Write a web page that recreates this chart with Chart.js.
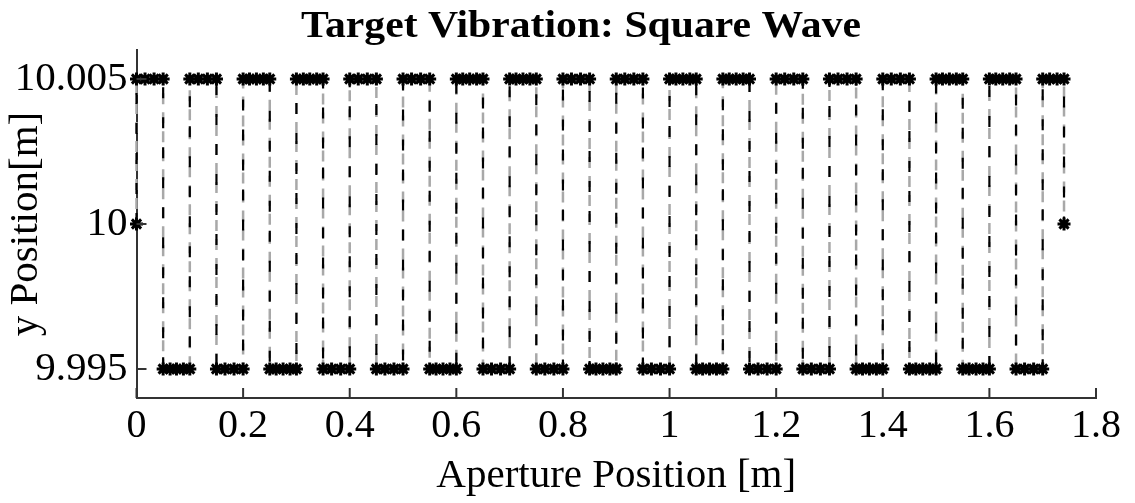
<!DOCTYPE html>
<html>
<head>
<meta charset="utf-8">
<script src="https://cdn.jsdelivr.net/npm/chart.js@4"></script>
<style>
  html, body { margin: 0; padding: 0; background: #ffffff; }
  #wrap { width: 1135px; height: 503px; }
</style>
</head>
<body>
<div id="wrap"><canvas id="c" width="1135" height="503"></canvas></div>
<script>
const chartTitle = 'Target Vibration: Square Wave';
const xAxisTitle = 'Aperture Position [m]';
const yAxisTitle = 'y Position[m]';

const xTickValues = [0, 0.2, 0.4, 0.6, 0.8, 1.0, 1.2, 1.4, 1.6, 1.8];
const xTickLabels = ['0', '0.2', '0.4', '0.6', '0.8', '1', '1.2', '1.4', '1.6', '1.8'];
const yTickValues = [9.995, 10, 10.005];
const yTickLabels = ['9.995', '10', '10.005'];

// sampled aperture positions (m), one line per plateau
const apertureX = [
  0, 0, 0.016, 0.033, 0.05,
  0.05, 0.063, 0.075, 0.088, 0.1,
  0.1, 0.116, 0.133, 0.15,
  0.15, 0.166, 0.183, 0.2,
  0.2, 0.212, 0.225, 0.238, 0.25,
  0.25, 0.262, 0.275, 0.288, 0.3,
  0.3, 0.313, 0.325, 0.338, 0.35,
  0.35, 0.366, 0.383, 0.4,
  0.4, 0.416, 0.433, 0.45,
  0.45, 0.466, 0.483, 0.5,
  0.5, 0.516, 0.533, 0.55,
  0.55, 0.562, 0.575, 0.588, 0.6,
  0.6, 0.612, 0.625, 0.638, 0.65,
  0.65, 0.666, 0.683, 0.7,
  0.7, 0.712, 0.725, 0.738, 0.75,
  0.75, 0.766, 0.783, 0.8,
  0.8, 0.816, 0.833, 0.85,
  0.85, 0.862, 0.875, 0.888, 0.9,
  0.9, 0.916, 0.933, 0.95,
  0.95, 0.966, 0.983, 1.0,
  1.0, 1.012, 1.025, 1.038, 1.05,
  1.05, 1.062, 1.075, 1.088, 1.1,
  1.1, 1.112, 1.125, 1.138, 1.15,
  1.15, 1.166, 1.183, 1.2,
  1.2, 1.216, 1.233, 1.25,
  1.25, 1.266, 1.283, 1.3,
  1.3, 1.316, 1.333, 1.35,
  1.35, 1.362, 1.375, 1.388, 1.4,
  1.4, 1.416, 1.433, 1.45,
  1.45, 1.462, 1.475, 1.488, 1.5,
  1.5, 1.512, 1.525, 1.538, 1.55,
  1.55, 1.562, 1.575, 1.588, 1.6,
  1.6, 1.612, 1.625, 1.638, 1.65,
  1.65, 1.666, 1.683, 1.7,
  1.7, 1.713, 1.727, 1.74, 1.74
];
// target y position (m), same layout as apertureX
const targetY = [
  10, 10.005, 10.005, 10.005, 10.005,
  9.995, 9.995, 9.995, 9.995, 9.995,
  10.005, 10.005, 10.005, 10.005,
  9.995, 9.995, 9.995, 9.995,
  10.005, 10.005, 10.005, 10.005, 10.005,
  9.995, 9.995, 9.995, 9.995, 9.995,
  10.005, 10.005, 10.005, 10.005, 10.005,
  9.995, 9.995, 9.995, 9.995,
  10.005, 10.005, 10.005, 10.005,
  9.995, 9.995, 9.995, 9.995,
  10.005, 10.005, 10.005, 10.005,
  9.995, 9.995, 9.995, 9.995, 9.995,
  10.005, 10.005, 10.005, 10.005, 10.005,
  9.995, 9.995, 9.995, 9.995,
  10.005, 10.005, 10.005, 10.005, 10.005,
  9.995, 9.995, 9.995, 9.995,
  10.005, 10.005, 10.005, 10.005,
  9.995, 9.995, 9.995, 9.995, 9.995,
  10.005, 10.005, 10.005, 10.005,
  9.995, 9.995, 9.995, 9.995,
  10.005, 10.005, 10.005, 10.005, 10.005,
  9.995, 9.995, 9.995, 9.995, 9.995,
  10.005, 10.005, 10.005, 10.005, 10.005,
  9.995, 9.995, 9.995, 9.995,
  10.005, 10.005, 10.005, 10.005,
  9.995, 9.995, 9.995, 9.995,
  10.005, 10.005, 10.005, 10.005,
  9.995, 9.995, 9.995, 9.995, 9.995,
  10.005, 10.005, 10.005, 10.005,
  9.995, 9.995, 9.995, 9.995, 9.995,
  10.005, 10.005, 10.005, 10.005, 10.005,
  9.995, 9.995, 9.995, 9.995, 9.995,
  10.005, 10.005, 10.005, 10.005, 10.005,
  9.995, 9.995, 9.995, 9.995,
  10.005, 10.005, 10.005, 10.005, 10
];

const points = apertureX.map((x, i) => ({ x: x, y: targetY[i] }));

const serif = "'Liberation Serif', 'DejaVu Serif', serif";

const inwardTicks = {
  id: 'inwardTicks',
  afterDatasetsDraw(chart) {
    const { ctx, chartArea, scales } = chart;
    ctx.save();
    ctx.strokeStyle = '#333333';
    ctx.lineWidth = 2;
    xTickValues.forEach(v => {
      const px = scales.x.getPixelForValue(v);
      ctx.beginPath();
      ctx.moveTo(px, chartArea.bottom);
      ctx.lineTo(px, chartArea.bottom - 10);
      ctx.stroke();
    });
    yTickValues.forEach(v => {
      const py = scales.y.getPixelForValue(v);
      ctx.beginPath();
      ctx.moveTo(chartArea.left, py);
      ctx.lineTo(chartArea.left + 10, py);
      ctx.stroke();
    });
    ctx.restore();
  }
};

const titlePlugin = {
  id: 'plotTitle',
  afterDraw(chart) {
    const ctx = chart.ctx;
    ctx.save();
    ctx.fillStyle = '#000000';
    ctx.font = "bold 37px " + serif;
    ctx.textAlign = 'center';
    ctx.textBaseline = 'alphabetic';
    const natural = ctx.measureText(chartTitle).width;
    const sx = 560 / natural;
    ctx.translate(581, 37);
    ctx.scale(sx, 1);
    ctx.fillText(chartTitle, 0, 0);
    ctx.restore();
  }
};

new Chart(document.getElementById('c'), {
  type: 'line',
  data: {
    datasets: [
      {
        label: 'target (black)',
        data: points,
        borderColor: '#000000',
        borderWidth: 2.2,
        borderDash: [11, 19],
        pointStyle: 'star',
        pointRadius: 6.5,
        pointBorderWidth: 3,
        pointBorderColor: '#000000',
        pointBackgroundColor: '#000000',
        tension: 0,
        clip: false,
        order: 0
      },
      {
        label: 'target (gray)',
        data: points,
        borderColor: '#a8a8a8',
        borderWidth: 2.5,
        borderDash: [11, 8],
        borderDashOffset: 4,
        pointRadius: 0,
        tension: 0,
        clip: false,
        order: 1
      }
    ]
  },
  options: {
    responsive: false,
    animation: false,
    events: [],
    layout: { padding: { left: 0, right: 39, top: 50, bottom: 0 } },
    plugins: {
      legend: { display: false },
      tooltip: { enabled: false },
      title: { display: false }
    },
    scales: {
      x: {
        type: 'linear',
        min: 0,
        max: 1.8,
        afterBuildTicks: s => { s.ticks = xTickValues.map(v => ({ value: v })); },
        afterFit: s => { s.height = 105; },
        ticks: {
          callback: (v, i) => xTickLabels[i],
          color: '#000000',
          font: { family: serif, size: 40 },
          padding: 4,
          maxRotation: 0,
          autoSkip: false
        },
        grid: { display: true, drawOnChartArea: false, drawTicks: false },
        border: { display: true, color: '#333333', width: 2 },
        title: {
          display: true,
          text: xAxisTitle,
          color: '#000000',
          font: { family: serif, size: 41 },
          padding: { top: 0, bottom: 2 }
        }
      },
      y: {
        type: 'linear',
        min: 9.994,
        max: 10.006,
        afterBuildTicks: s => { s.ticks = yTickValues.map(v => ({ value: v })); },
        afterFit: s => { s.width = 136.5; },
        ticks: {
          callback: (v, i) => yTickLabels[i],
          color: '#000000',
          font: { family: serif, size: 41 },
          padding: 9,
          autoSkip: false
        },
        grid: { display: true, drawOnChartArea: false, drawTicks: false },
        border: { display: true, color: '#333333', width: 2 },
        title: {
          display: true,
          text: yAxisTitle,
          color: '#000000',
          font: { family: serif, size: 41 },
          padding: { top: 2, bottom: 0 }
        }
      }
    }
  },
  plugins: [inwardTicks, titlePlugin]
});
</script>
</body>
</html>
